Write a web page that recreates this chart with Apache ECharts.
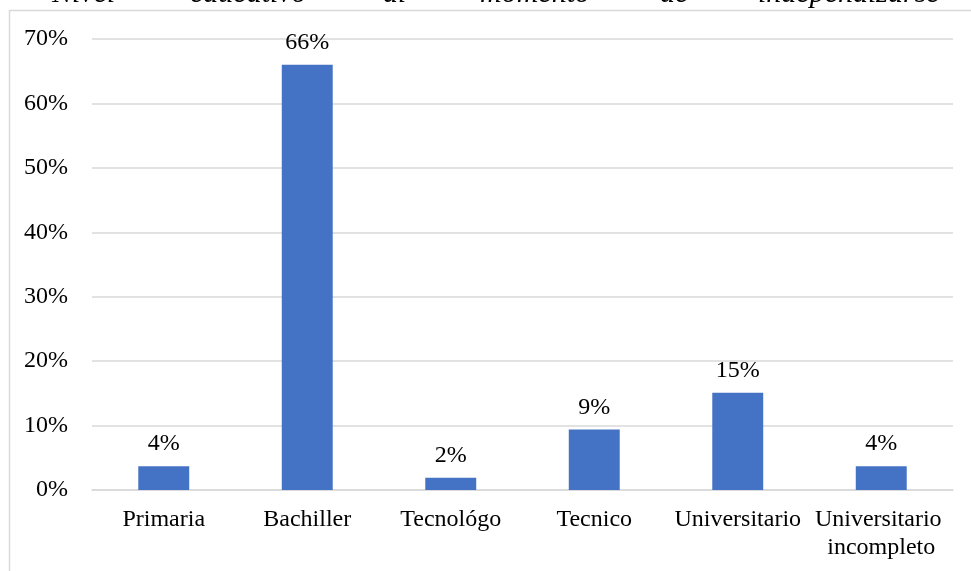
<!DOCTYPE html>
<html>
<head>
<meta charset="utf-8">
<script src="https://cdn.jsdelivr.net/npm/echarts@6/dist/echarts.min.js"></script>
<style>
  html, body { margin: 0; padding: 0; background: #ffffff; }
  #chart { width: 971px; height: 571px; }
</style>
</head>
<body>
<div id="chart"></div>
<script>
// ---- data ----
const categories = ['Primaria', 'Bachiller', 'Tecnológo', 'Tecnico', 'Universitario', 'Universitario incompleto'];
const values = [3.7, 66, 1.9, 9.4, 15.1, 3.7];          // percent
const yTicks = [0, 10, 20, 30, 40, 50, 60, 70];           // percent tick values
const captionWords = ['Nivel', 'educativo', 'al', 'momento', 'de', 'independizarse'];

// ---- layout (not data) ----
const captionX = [52, 190, 383, 480, 660, 758];
const FONT = '"Liberation Serif", "Times New Roman", serif';

const chart = echarts.init(document.getElementById('chart'), null, { renderer: 'canvas' });

const graphics = [{
  type: 'rect',
  silent: true,
  shape: { x: 9.5, y: 10.5, width: 1200, height: 800 },
  style: { fill: 'none', stroke: '#d9d9d9', lineWidth: 1.5 },
  z: -10
}];
captionWords.forEach((w, i) => {
  graphics.push({
    type: 'text',
    silent: true,
    x: captionX[i],
    y: -6,
    style: {
      text: w,
      font: 'italic 30px ' + FONT,
      fill: '#000',
      verticalAlign: 'middle',
      align: 'left'
    }
  });
});

chart.setOption({
  animation: false,
  backgroundColor: '#ffffff',
  graphic: graphics,
  grid: { left: 92, right: 18, top: 39, bottom: 81, containLabel: false },
  xAxis: {
    type: 'category',
    data: categories,
    axisLine: { show: true, lineStyle: { color: '#d9d9d9', width: 1.5 } },
    axisTick: { show: false },
    axisLabel: {
      interval: 0,
      color: '#000',
      fontFamily: FONT,
      fontSize: 24,
      lineHeight: 28,
      margin: 16,
      width: 140,
      overflow: 'break'
    }
  },
  yAxis: {
    type: 'value',
    min: yTicks[0],
    max: yTicks[yTicks.length - 1],
    interval: yTicks[1] - yTicks[0],
    axisLine: { show: false },
    axisTick: { show: false },
    splitLine: { lineStyle: { color: '#d9d9d9', width: 1.5 } },
    axisLabel: {
      color: '#000',
      fontFamily: FONT,
      fontSize: 24,
      margin: 24,
      formatter: v => v + '%'
    }
  },
  series: [{
    type: 'bar',
    data: values,
    barWidth: '35.5%',
    itemStyle: { color: '#4472C4' },
    label: {
      show: true,
      position: 'top',
      distance: 10,
      color: '#000',
      fontFamily: FONT,
      fontSize: 24,
      formatter: p => Math.round(p.value) + '%'
    }
  }]
});
</script>
</body>
</html>
